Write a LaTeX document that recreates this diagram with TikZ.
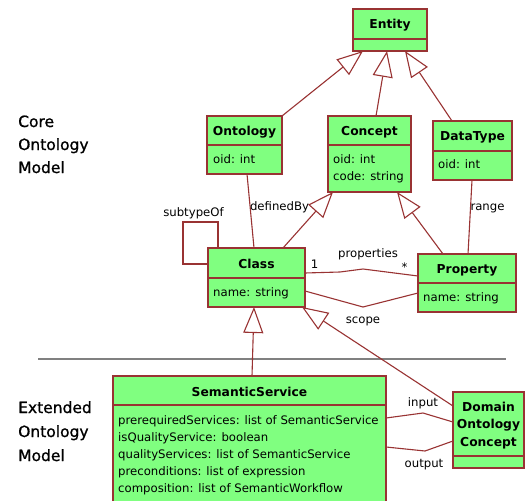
\documentclass[tikz,border=0pt]{standalone}
\usepackage{fontspec}
\setmainfont{DejaVu Sans}
\newfontfamily\sidefont[FakeBold=0.9]{DejaVu Sans}
\usetikzlibrary{arrows.meta,calc}

\definecolor{umlgreen}{RGB}{128,255,128}
\definecolor{umlred}{RGB}{153,51,51}
\definecolor{sepgray}{RGB}{128,128,128}

\tikzset{
  umlbox/.style={draw=umlred, fill=umlgreen, line width=1.1pt, rectangle,
    inner sep=0pt, outer sep=0pt, anchor=north west},
  umlline/.style={draw=umlred, line width=1.1pt},
  umltitle/.style={font=\bfseries\fontsize{12.3}{17.5}\selectfont, inner sep=0pt, anchor=base},
  umlattr/.style={font=\fontsize{11.7}{17}\selectfont, inner sep=0pt, anchor=base west},
  edgelabel/.style={font=\fontsize{11.7}{14}\selectfont, inner sep=0pt, anchor=base},
  sidelabel/.style={font=\sidefont\fontsize{15.5}{19}\selectfont, inner sep=0pt, anchor=base west},
  assoc/.style={umlline},
  generalization/.style={umlline, -{Triangle[open, length=26pt, width=20pt, fill=white]}},
}

% #1 name, #2 x1, #3 y1, #4 x2, #5 y2, #6 divider y, #7 title baseline, #8 title
\newcommand\umlclass[8]{%
  \node[umlbox, minimum width={(#4-#2)*1pt}, minimum height={(#5-#3)*1pt}] (#1) at (#2,#3) {};
  \draw[umlline] ([yshift={(#3-#6)*1pt}]#1.north west) -- ([yshift={(#3-#6)*1pt}]#1.north east);
  \node[umltitle] (#1-title) at ({(#2+#4)/2},#7) {#8};
}
% #1 name, #2 x, #3 first baseline, #4 attribute lines
\newcommand\umlattrs[4]{%
  \foreach \t [count=\i from 0] in {#4} {
    \node[umlattr] (#1-attr\i) at (#2,{#3+17*\i}) {\t};
  }
}

\begin{document}
\begin{tikzpicture}[x=1pt,y=-1pt]
\useasboundingbox (0,0) rectangle (526,500);
\fill[white] (0,0) rectangle (526,500);
\clip (0,0) rectangle (526,500);

% side captions
\node[sidelabel] (core1) at (18,127) {Core};
\node[sidelabel] (core2) at (18,150) {Ontology};
\node[sidelabel] (core3) at (18,173) {Model};
\node[sidelabel] (ext1) at (18,413) {Extended};
\node[sidelabel] (ext2) at (18,437) {Ontology};
\node[sidelabel] (ext3) at (18,461) {Model};

% separator between core and extended model
\draw[sepgray, line width=1.6pt] (38,359) -- (506,359);

% classes
\umlclass{ent}{353}{9}{427}{51}{39}{29}{Entity}
\umlclass{ont}{207}{116}{282}{174}{145}{135}{Ontology}
\umlattrs{ont}{213}{163}{oid: int}
\umlclass{con}{328}{116}{411}{192}{145}{135}{Concept}
\umlattrs{con}{333}{163}{oid: int, code: string}
\umlclass{dt}{433}{121}{512}{180}{151}{140}{DataType}
\umlattrs{dt}{438}{168}{oid: int}
\umlclass{cls}{208}{248}{305}{307}{278}{268}{Class}
\umlattrs{cls}{213}{296}{name: string}
\umlclass{prop}{418}{254}{516}{312}{283}{273}{Property}
\umlattrs{prop}{423}{301}{name: string}
\umlclass{ss}{113}{376}{386}{512}{405}{396}{SemanticService}
\umlattrs{ss}{118}{424}{prerequiredServices: list of SemanticService,
  isQualityService: boolean, qualityServices: list of SemanticService,
  preconditions: list of expression, composition: list of SemanticWorkflow}
\umlclass{doc}{453}{392}{524}{468}{456}{411}{Domain}
\node[umltitle] (doc-title2) at (488.5,428.5) {Ontology};
\node[umltitle] (doc-title3) at (488.5,446) {Concept};

% generalizations
\draw[generalization] (ont.north east) -- ([xshift=10pt]ent.south west);
\draw[generalization] ([xshift=48pt]con.north west) -- ([xshift=34pt]ent.south west);
\draw[generalization] ([xshift=19pt]dt.north west) -- ([xshift=52pt]ent.south west);
\draw[generalization] ([xshift=75pt]cls.north west) -- ([xshift=5pt]con.south west);
\draw[generalization] ([xshift=25pt]prop.north west) -- ([xshift=69pt]con.south west);
\draw[generalization] ([xshift=139pt]ss.north west) -- ([xshift=46pt]cls.south west);
\draw[generalization] ([yshift=-14pt]doc.north west) -- ([xshift=-3pt]cls.south east);

% associations
\coordinate (loopcorner) at (183,222);
\coordinate (propbend1) at (340,272);
\coordinate (propbend2) at (363,269);
\coordinate (scopebend) at (363,307);
\coordinate (inbend) at (423,413);
\coordinate (outbend) at (425,451);

\draw[assoc] ([yshift=-16pt]cls.north west) -| (loopcorner) -| ([xshift=10pt]cls.north west);
\draw[assoc] ([xshift=40pt]ont.south west) -- ([xshift=46pt]cls.north west);
\draw[assoc] ([xshift=39pt]dt.south west) -- ([xshift=50pt]prop.north west);
\draw[assoc] ([yshift=-25pt]cls.north east) -- (propbend1) -- (propbend2) -- ([yshift=-22pt]prop.north west);
\draw[assoc] ([yshift=-43pt]cls.north east) -- (scopebend) -- ([yshift=-39pt]prop.north west);
\draw[assoc] ([yshift=-42pt]ss.north east) -- (inbend) -- ([yshift=-30pt]doc.north west);
\draw[assoc] ([yshift=-71pt]ss.north east) -- (outbend) -- ([yshift=-49pt]doc.north west);

% association labels
\node[edgelabel] (lsub) at (193.5,216) {subtypeOf};
\node[edgelabel] (ldef) at (279.5,210) {definedBy};
\node[edgelabel] (lrange) at (487.5,210) {range};
\node[edgelabel] (lprop) at (368,257) {properties};
\node[edgelabel] (lone) at (314.5,268) {1};
\node[edgelabel] (lmany) at (404.5,271) {*};
\node[edgelabel] (lscope) at (363,323) {scope};
\node[edgelabel] (lin) at (423,406) {input};
\node[edgelabel] (lout) at (424,467) {output};
\end{tikzpicture}
\end{document}
